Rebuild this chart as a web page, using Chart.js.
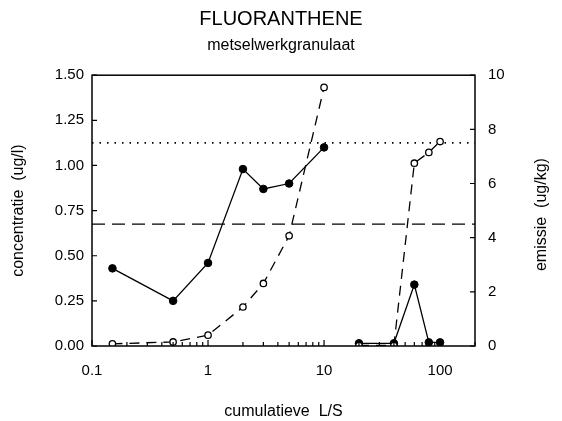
<!DOCTYPE html>
<html><head><meta charset="utf-8">
<script src="https://cdn.jsdelivr.net/npm/chart.js@4.4.1/dist/chart.umd.min.js"></script>
<style>html,body{margin:0;padding:0;background:#fff}#wrap{width:562px;height:421px}</style>
</head><body><div id="wrap"><canvas id="c" width="562" height="421"></canvas></div>
<script>
// ---- data ----
const lsValues      = [0.15, 0.5, 1, 2, 3, 5, 10, 20, 40, 60, 80, 100];   // cumulatieve L/S
const concentratie  = [0.43, 0.25, 0.46, 0.98, 0.87, 0.90, 1.10, 0.015, 0.015, 0.34, 0.02, 0.02]; // ug/l (left)
const emissie       = [0.08, 0.15, 0.40, 1.44, 2.31, 4.07, 9.55, 0.02, 0.02, 6.75, 7.15, 7.55];  // ug/kg (right)
const runBreakAfter = 10;                 // second leaching run starts after L/S = 10
const xTickLabels   = [0.1, 1, 10, 100];
const yLeftTicks    = [0, 0.25, 0.5, 0.75, 1.0, 1.25, 1.5];
const yRightTicks   = [0, 2, 4, 6, 8, 10];
const limitDotted   = 1.125;              // concentratie level (left axis)
const limitDashed   = 0.675;              // concentratie level (left axis)
const xRange        = [0.1, 200];

function toPoints(vals){
  const out = [];
  lsValues.forEach((x,i)=>{
    out.push({x:x, y:vals[i]});
    if (x === runBreakAfter) out.push({x:x, y:null});
  });
  return out;
}

Chart.defaults.font.family = "'Liberation Sans', Arial, sans-serif";
Chart.defaults.color = '#000';

const framePlugin = {
  id: 'frameTicks',
  afterDatasetsDraw(chart){
    const {ctx, chartArea:a, scales} = chart;
    ctx.save();
    ctx.strokeStyle = '#000';
    ctx.lineWidth = 1.5;
    ctx.setLineDash([]);
    ctx.strokeRect(a.left, a.top, a.right - a.left, a.bottom - a.top);
    ctx.lineWidth = 1.2;
    ctx.beginPath();
    yLeftTicks.forEach(v=>{
      const y = scales.y.getPixelForValue(v);
      ctx.moveTo(a.left, y); ctx.lineTo(a.left + 5, y);
    });
    yRightTicks.forEach(v=>{
      const y = scales.y1.getPixelForValue(v);
      ctx.moveTo(a.right, y); ctx.lineTo(a.right - 5, y);
    });
    xTickLabels.forEach(dec=>{
      for (let k=1;k<=9;k++){
        const v = dec*k;
        if (v > xRange[1] + 1e-9) break;
        const x = scales.x.getPixelForValue(v);
        const len = k===1 ? 6 : 4;
        ctx.moveTo(x, a.bottom); ctx.lineTo(x, a.bottom - len);
      }
    });
    ctx.stroke();
    ctx.restore();
  },
  afterDraw(chart){
    const {ctx, chartArea:a} = chart;
    ctx.save();
    ctx.fillStyle = '#000';
    ctx.font = "16px 'Liberation Sans', Arial, sans-serif";
    ctx.textAlign = 'center';
    ctx.textBaseline = 'middle';
    ctx.translate(542, (a.top + a.bottom)/2 + 4);
    ctx.rotate(-Math.PI/2);
    ctx.fillText('emissie  (ug/kg)', 0, 0);
    ctx.restore();
  }
};

new Chart(document.getElementById('c'), {
  type: 'line',
  data: {
    datasets: [
      {
        label: 'concentratie',
        data: toPoints(concentratie),
        yAxisID: 'y',
        borderColor: '#000', borderWidth: 1.3,
        pointRadius: 3.8, pointBackgroundColor: '#000', pointBorderColor: '#000', pointBorderWidth: 1,
        spanGaps: false, tension: 0, order: 2
      },
      {
        label: 'emissie',
        data: toPoints(emissie),
        yAxisID: 'y1',
        borderColor: '#000', borderWidth: 1.3, borderDash: [10, 7],
        pointRadius: 3.2, pointBackgroundColor: '#fff', pointBorderColor: '#000', pointBorderWidth: 1.3,
        spanGaps: false, tension: 0, order: 1
      },
      {
        label: 'niveau 1',
        data: xRange.map(x=>({x:x, y:limitDotted})),
        yAxisID: 'y',
        borderColor: '#000', borderWidth: 1.8, borderDash: [1.5, 6],
        pointRadius: 0, order: 3
      },
      {
        label: 'niveau 2',
        data: xRange.map(x=>({x:x, y:limitDashed})),
        yAxisID: 'y',
        borderColor: '#000', borderWidth: 1.3, borderDash: [13, 7],
        pointRadius: 0, order: 3
      }
    ]
  },
  options: {
    responsive: false,
    animation: false,
    layout: { padding: 0 },
    plugins: {
      legend: { display: false },
      tooltip: { enabled: false },
      title: {
        display: true, text: 'FLUORANTHENE', color: '#000',
        font: { size: 20, weight: 'normal' },
        padding: { top: 7, bottom: 5 }
      },
      subtitle: {
        display: true, text: 'metselwerkgranulaat', color: '#000',
        font: { size: 16, weight: 'normal' },
        padding: { top: 0, bottom: 20 }
      }
    },
    scales: {
      x: {
        type: 'logarithmic', min: xRange[0], max: xRange[1],
        afterBuildTicks: s => { s.ticks = xTickLabels.map(v=>({value:v})); },
        afterFit: s => { s.height = 75; },
        ticks: { font: { size: 15 }, padding: 16, maxRotation: 0, autoSkip: false,
                 callback: v => String(v) },
        grid: { display: false, drawTicks: false },
        border: { display: false },
        title: { display: true, text: 'cumulatieve  L/S', font: { size: 16 }, padding: { top: 0, bottom: 0 } }
      },
      y: {
        position: 'left', min: 0, max: 1.5,
        afterBuildTicks: s => { s.ticks = yLeftTicks.map(v=>({value:v})); },
        afterFit: s => { s.width = 92; },
        ticks: { font: { size: 15 }, padding: 8, callback: v => Number(v).toFixed(2) },
        grid: { display: false, drawTicks: false },
        border: { display: false },
        title: { display: true, text: 'concentratie  (ug/l)', font: { size: 16 }, padding: { top: 9, bottom: 0 } }
      },
      y1: {
        position: 'right', min: 0, max: 10,
        afterBuildTicks: s => { s.ticks = yRightTicks.map(v=>({value:v})); },
        afterFit: s => { s.width = 87; },
        ticks: { font: { size: 15 }, padding: 13, callback: v => String(v) },
        grid: { display: false, drawTicks: false },
        border: { display: false }
      }
    }
  },
  plugins: [framePlugin]
});
</script></body></html>
